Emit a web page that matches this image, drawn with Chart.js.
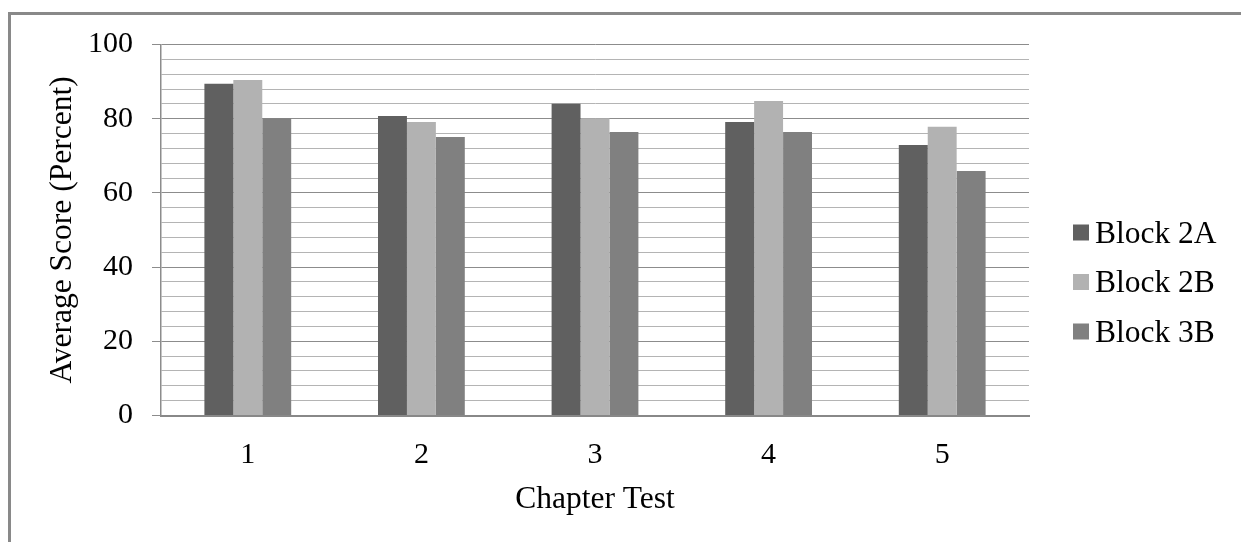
<!DOCTYPE html>
<html>
<head>
<meta charset="utf-8">
<title>Average Score by Chapter Test</title>
<script src="https://cdn.jsdelivr.net/npm/chart.js@4/dist/chart.umd.min.js"></script>
<style>
  html, body { margin: 0; padding: 0; background: #ffffff; overflow: hidden; }
  #wrap { position: relative; width: 1241px; height: 542px; }
  #frame {
    position: absolute; left: 8px; top: 12px;
    width: 1400px; height: 700px;
    border: 3px solid #898989; box-sizing: border-box;
  }
  #chart { position: absolute; left: 0; top: 0; }
</style>
</head>
<body>
<div id="wrap">
  <div id="frame"></div>
  <canvas id="chart" width="1241" height="542"></canvas>
</div>
<script>
// Chapter tests on the x axis, one bar per class block
const categories = ['1', '2', '3', '4', '5'];
const seriesNames = ['Block 2A', 'Block 2B', 'Block 3B'];
const block2A = [89.4, 80.7, 84.0, 79.1, 72.9];
const block2B = [90.4, 79.1, 80.1, 84.8, 77.8];
const block3B = [80.1, 75.1, 76.4, 76.4, 65.9];
const seriesColors = ['#606060', '#b2b2b2', '#808080'];

const yMin = 0, yMax = 100, minorStep = 4, majorStep = 20;

const FONT = 'Liberation Serif';
const TICK_SIZE = 30;
const TEXT_SIZE = 31.5;

// Legend drawn at the right of the plot, one row per dataset
const sideLegend = {
  id: 'sideLegend',
  afterDraw(chart) {
    const ctx = chart.ctx;
    const boxX = 1073, textX = 1095, box = 16;
    const rows = [232.5, 282, 331.5];
    ctx.save();
    ctx.font = TEXT_SIZE + 'px "' + FONT + '"';
    ctx.textAlign = 'left';
    ctx.textBaseline = 'alphabetic';
    chart.data.datasets.forEach((ds, i) => {
      const cy = rows[i];
      ctx.fillStyle = ds.backgroundColor;
      ctx.fillRect(boxX, cy - box / 2, box, box);
      ctx.fillStyle = '#000000';
      ctx.fillText(ds.label, textX, cy + 10);
    });
    ctx.restore();
  }
};

new Chart(document.getElementById('chart'), {
  type: 'bar',
  data: {
    labels: categories,
    datasets: [
      { label: seriesNames[0], data: block2A, backgroundColor: seriesColors[0] },
      { label: seriesNames[1], data: block2B, backgroundColor: seriesColors[1] },
      { label: seriesNames[2], data: block3B, backgroundColor: seriesColors[2] }
    ]
  },
  options: {
    responsive: false,
    animation: false,
    devicePixelRatio: 1,
    layout: { padding: { left: 40, right: 212, top: 44.5, bottom: 19 } },
    datasets: { bar: { categoryPercentage: 0.5, barPercentage: 1.0, borderWidth: 0 } },
    plugins: {
      legend: { display: false },
      tooltip: { enabled: false },
      title: { display: false }
    },
    scales: {
      x: {
        grid: { display: false, drawTicks: false },
        border: { display: true, color: '#888888', width: 2 },
        ticks: {
          color: '#000000',
          font: { family: FONT, size: TICK_SIZE },
          padding: 22,
          maxRotation: 0
        },
        title: {
          display: true,
          text: 'Chapter Test',
          color: '#000000',
          font: { family: FONT, size: TEXT_SIZE },
          padding: { top: 4, bottom: 4 }
        },
        afterFit(scale) { scale.height = 107.5; }
      },
      y: {
        min: yMin,
        max: yMax,
        grid: {
          color: (c) => (c.tick && c.tick.value % majorStep === 0) ? '#8c8c8c' : '#b4b4b4',
          lineWidth: 1,
          tickColor: (c) => (c.tick && c.tick.value % majorStep === 0) ? '#8c8c8c' : 'rgba(0,0,0,0)',
          tickLength: 9,
          drawTicks: true
        },
        border: { display: true, color: '#8c8c8c', width: 1.5 },
        ticks: {
          stepSize: minorStep,
          maxTicksLimit: 40,
          autoSkip: false,
          color: '#000000',
          font: { family: FONT, size: TICK_SIZE },
          padding: 19,
          callback: (v) => (v % majorStep === 0 ? String(v) : '')
        },
        title: {
          display: true,
          text: 'Average Score (Percent)',
          color: '#000000',
          font: { family: FONT, size: TEXT_SIZE },
          padding: { top: 4, bottom: 4 }
        },
        afterFit(scale) { scale.width = 121; }
      }
    }
  },
  plugins: [sideLegend]
});
</script>
</body>
</html>
